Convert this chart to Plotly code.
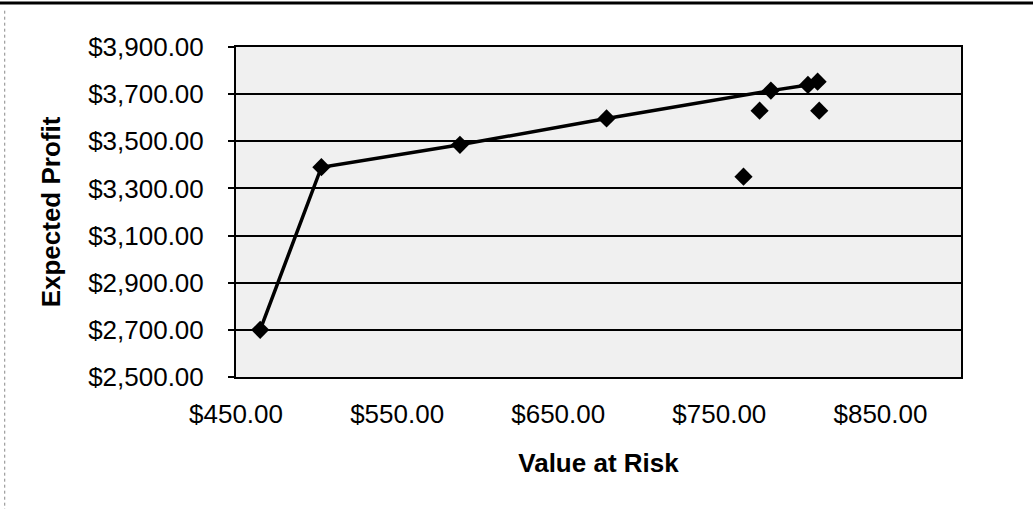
import plotly.graph_objects as go

# Efficient frontier portfolios: value at risk vs expected profit
frontier_var = [465, 503, 589, 680, 782, 805, 811]
frontier_profit = [2700, 3390, 3485, 3597, 3715, 3739, 3753]

# Other candidate portfolios (not on the frontier)
other_var = [775, 812, 765]
other_profit = [3630, 3630, 3350]

x_ticks = [450, 550, 650, 750, 850]
y_ticks = [2500, 2700, 2900, 3100, 3300, 3500, 3700, 3900]

FONT = "Liberation Sans, Arial, sans-serif"

fig = go.Figure()
fig.add_trace(go.Scatter(
    x=frontier_var, y=frontier_profit, mode="lines+markers",
    line=dict(color="black", width=3.5),
    marker=dict(symbol="diamond", size=14, color="black"),
    showlegend=False, cliponaxis=False,
))
fig.add_trace(go.Scatter(
    x=other_var, y=other_profit, mode="markers",
    marker=dict(symbol="diamond", size=14, color="black"),
    showlegend=False, cliponaxis=False,
))

fig.update_layout(
    width=1033, height=509,
    margin=dict(l=236, r=72, t=47, b=132),
    paper_bgcolor="white", plot_bgcolor="#f0f0f0",
    font=dict(family=FONT, color="black", size=26),
    xaxis=dict(
        range=[450, 900], tickvals=x_ticks, tickformat="$,.2f",
        showgrid=False, zeroline=False, ticks="",
        showline=True, linecolor="black", linewidth=2, mirror=True,
        ticklabelstandoff=13,
        title=dict(text="<b>Value at Risk</b>", standoff=26,
                   font=dict(size=26)),
    ),
    yaxis=dict(
        range=[2500, 3900], tickvals=y_ticks, tickformat="$,.2f",
        showgrid=True, gridcolor="black", gridwidth=2, zeroline=False,
        ticks="outside", ticklen=6, tickwidth=2, tickcolor="black",
        showline=True, linecolor="black", linewidth=2, mirror=True,
        ticklabelstandoff=19,
        title=dict(text="<b>Expected Profit</b>", standoff=20,
                   font=dict(size=26)),
    ),
)

# Page frame lines around the chart object
fig.add_shape(type="line", xref="paper", yref="paper",
              x0=-0.33, x1=1.1, y0=1.133, y1=1.133,
              line=dict(color="black", width=3))
fig.add_shape(type="line", xref="paper", yref="paper",
              x0=-0.319, x1=-0.319, y0=1.11, y1=-0.4,
              line=dict(color="#888888", width=1, dash="dot"))

fig.write_html("out.html")
